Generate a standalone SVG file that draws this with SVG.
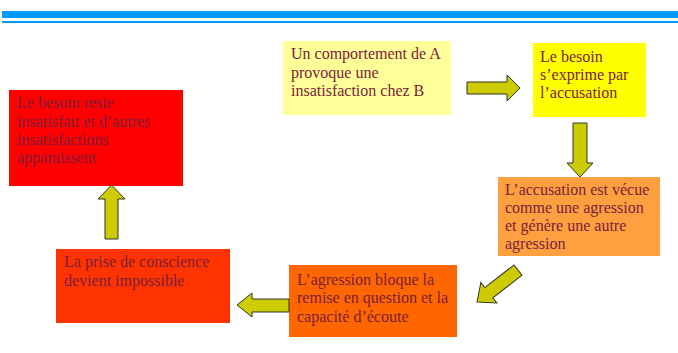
<svg xmlns="http://www.w3.org/2000/svg" width="678" height="353" viewBox="0 0 678 353">
<defs>
<style>
.t{font-family:"Liberation Serif","Times New Roman",serif;font-size:16px;fill:#7A1E3C}
.arr{fill:#CCCC00;stroke:#333;stroke-width:1;stroke-linejoin:miter}
</style>
<clipPath id="clipC"><rect x="498" y="177" width="162" height="79"/></clipPath>
</defs>
<rect width="678" height="353" fill="#fff"/>
<g id="header">
<rect x="2" y="11" width="676" height="7" fill="#0099FF"/>
<rect x="2" y="21" width="676" height="2" fill="#0099FF"/>
</g>
<g id="nodeA">
<rect x="283" y="41" width="168" height="74" fill="#FFFF99"/>
<text class="t" x="291" y="59">Un comportement de A</text>
<text class="t" x="291" y="78">provoque une</text>
<text class="t" x="291" y="96">insatisfaction chez B</text>
</g>
<g id="nodeB">
<rect x="533" y="43" width="113" height="74" fill="#FFFF00"/>
<text class="t" x="540" y="62">Le besoin</text>
<text class="t" x="540" y="80">s’exprime par</text>
<text class="t" x="540" y="98">l’accusation</text>
</g>
<g id="nodeC">
<rect x="498" y="177" width="162" height="79" fill="#FFA040"/>
<g clip-path="url(#clipC)">
<text class="t" x="505" y="195">L’accusation est vécue</text>
<text class="t" x="505" y="213">comme une agression</text>
<text class="t" x="505" y="231">et génère une autre</text>
<text class="t" x="505" y="249">agression</text>
</g>
</g>
<g id="nodeD">
<rect x="289" y="265" width="168" height="72" fill="#FF6600"/>
<text class="t" x="297" y="285">L’agression bloque la</text>
<text class="t" x="297" y="303">remise en question et la</text>
<text class="t" x="297" y="322">capacité d’écoute</text>
</g>
<g id="nodeE">
<rect x="56" y="249" width="174" height="74" fill="#FF3300"/>
<text class="t" x="64" y="267">La prise de conscience</text>
<text class="t" x="64" y="286">devient impossible</text>
</g>
<g id="nodeF">
<rect x="9" y="90" width="174" height="96" fill="#FF0000"/>
<text class="t" x="17" y="108">Le besoin reste</text>
<text class="t" x="17" y="127">insatisfait et d’autres</text>
<text class="t" x="17" y="145">insatisfactions</text>
<text class="t" x="17" y="163">apparaissent</text>
</g>
<g id="connectors">
<polygon class="arr" points="467,82 507,82 507,75 520,88 507,101 507,94 467,94"/>
<polygon class="arr" points="573,123 587,123 587,163 593,163 580,177 567,163 573,163"/>
<polygon class="arr" transform="translate(518,270) rotate(142)" points="0,-6.5 37,-6.5 37,-13 52,0 37,13 37,6.5 0,6.5"/>
<polygon class="arr" points="289,299 252,299 252,293 237,305 252,317 252,312 289,312"/>
<polygon class="arr" points="105,239 105,199 98,199 111.5,185 125,199 118,199 118,239"/>
</g>
</svg>
